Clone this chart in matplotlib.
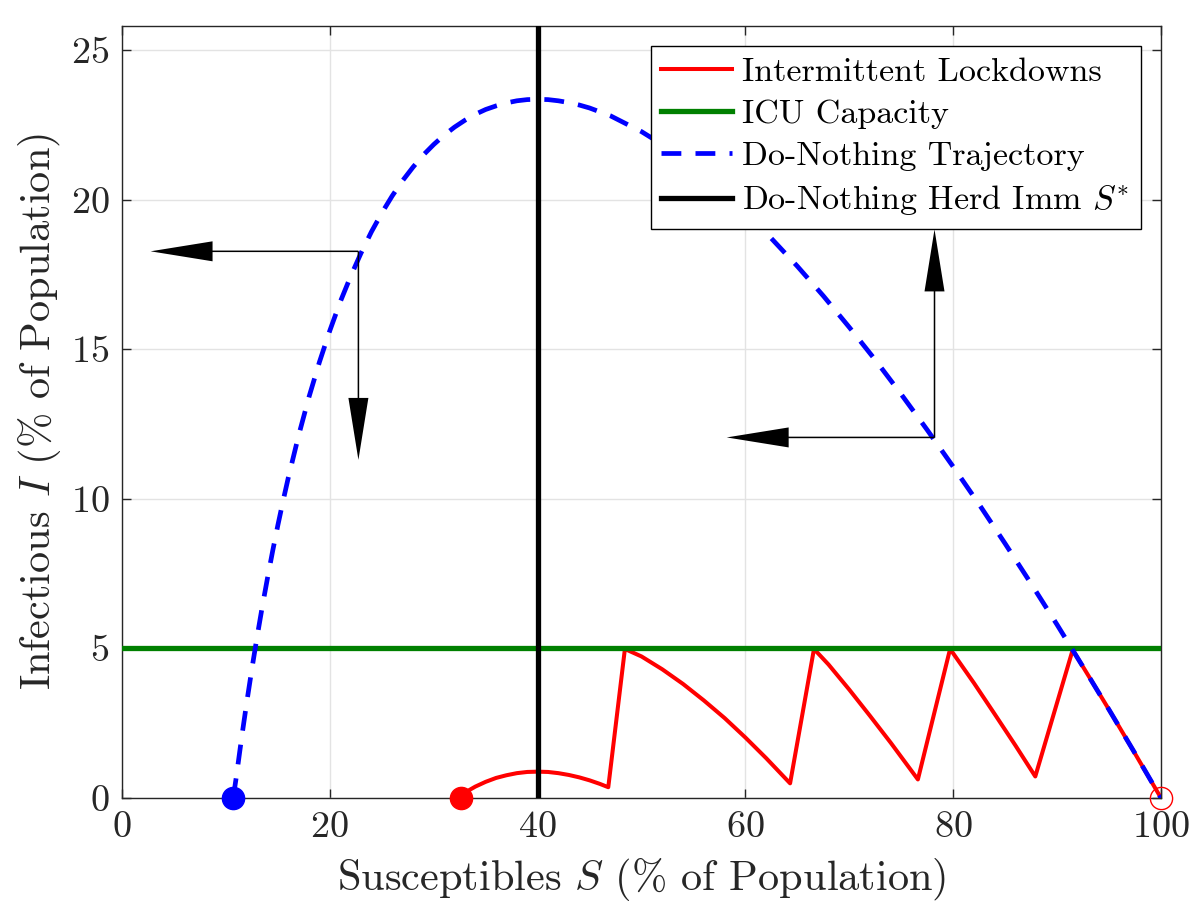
import matplotlib
matplotlib.use("Agg")
from matplotlib import pyplot as plt

plt.rcParams['font.family'] = 'serif'
plt.rcParams['font.serif'] = ['cmr10']
plt.rcParams['mathtext.fontset'] = 'cm'
plt.rcParams['axes.formatter.use_mathtext'] = True

# do-nothing SIR trajectory, S and I in % of population
dn_S = [10.7, 11.0, 11.5, 12, 12.5, 13, 13.5, 14, 14.5, 15, 15.5, 16, 17, 18, 19, 20, 21, 22,
        23, 24, 25, 26, 27, 28, 29, 30, 31, 32, 33, 34, 35, 36, 37, 38, 39, 40, 41, 42, 43,
        44, 45, 47, 50, 52.5, 55, 57.5, 60, 62.5, 65, 67.5, 70, 72.5, 75, 77.5, 80, 82.5,
        85, 87.5, 90, 92.5, 95, 97.5, 100]
dn_I = [0.0, 0.71, 1.99, 3.19, 4.32, 5.39, 6.40, 7.35, 8.26, 9.12, 9.93, 10.70, 12.12, 13.41,
        14.57, 15.62, 16.58, 17.43, 18.21, 18.92, 19.55, 20.12, 20.63, 21.08, 21.49, 21.84,
        22.15, 22.42, 22.65, 22.85, 23.01, 23.13, 23.23, 23.30, 23.34, 23.35, 23.34, 23.30,
        23.24, 23.16, 23.06, 22.80, 22.27, 21.73, 21.09, 20.36, 19.57, 18.70, 17.77, 16.78,
        15.73, 14.64, 13.49, 12.30, 11.07, 9.81, 8.50, 7.16, 5.79, 4.38, 2.95, 1.49, 0.0]

# intermittent lockdown trajectory (time runs from S=100 leftwards)
lk_S = [100, 97, 95, 93.5, 91.5,
        87.9, 86, 84, 82, 79.7,
        76.6, 74, 72, 70, 68, 66.6,
        64.3, 62, 60, 58, 56, 54, 52, 50, 48.4,
        46.8, 46, 45, 44, 43, 42, 41, 40, 39, 38, 37, 36, 35, 34, 33, 32.6]
lk_I = [0.0, 1.78, 2.95, 3.81, 4.95,
        0.72, 1.75, 2.80, 3.84, 4.98,
        0.62, 1.84, 2.74, 3.62, 4.46, 4.98,
        0.49, 1.33, 2.02, 2.67, 3.26, 3.81, 4.30, 4.73, 4.98,
        0.36, 0.47, 0.59, 0.69, 0.77, 0.83, 0.87, 0.88, 0.87, 0.83, 0.76, 0.67, 0.54,
        0.38, 0.18, 0.0]

icu_capacity = 5.0
herd_S = 40.0
dn_end = (10.7, 0.0)
lk_end = (32.6, 0.0)
start = (100.0, 0.0)

# direction arrows: (corner, tip)
arrows = [((22.75, 18.27), (2.75, 18.27)),
          ((22.75, 18.27), (22.75, 11.3)),
          ((78.2, 12.05), (78.2, 19.0)),
          ((78.2, 12.05), (58.2, 12.05))]

fig = plt.figure(figsize=(12, 9.22), dpi=100)
ax = fig.add_axes([0.1017, 0.1345, 0.8658, 0.8373])

ax.plot(lk_S, lk_I, color='#ff0000', lw=2.9, label='Intermittent Lockdowns', zorder=3)
ax.axhline(icu_capacity, color='#008000', lw=3.8, label='ICU Capacity', zorder=4)
ax.plot(dn_S, dn_I, color='#0000ff', lw=3.4, dashes=(4.2, 3.0),
        label='Do-Nothing Trajectory', zorder=5)
ax.axvline(herd_S, color='k', lw=3.8, label=r'Do-Nothing Herd Imm $S^{*}$', zorder=6)

ax.plot(*dn_end, 'o', color='#0000ff', ms=16, zorder=7, clip_on=False)
ax.plot(*lk_end, 'o', color='#ff0000', ms=16, zorder=7, clip_on=False)
ax.plot(*start, 'o', mfc='none', mec='#ff0000', ms=16, mew=1.0, zorder=7, clip_on=False)

for corner, tip in arrows:
    ax.annotate('', xy=tip, xytext=corner,
                arrowprops=dict(facecolor='k', edgecolor='none', width=1.1,
                                headwidth=14.4, headlength=44.6, shrink=0.0),
                zorder=8)

ax.set_xlim(0, 100)
ax.set_ylim(0, 25.8)
ax.set_xticks([0, 20, 40, 60, 80, 100])
ax.set_yticks([0, 5, 10, 15, 20, 25])
ax.grid(True, color='#e3e3e3', lw=1.0)
ax.set_axisbelow(True)
ax.tick_params(direction='in', length=6.5, width=1.0, top=True, right=True,
               labelsize=27.5, colors='#262626', pad=9)
for sp in ax.spines.values():
    sp.set_color('#262626')
    sp.set_linewidth(1.0)

ax.set_xlabel(r'Susceptibles $S$ (% of Population)', fontsize=30.5, color='#262626',
              labelpad=9)
ax.set_ylabel(r'Infectious $I$ (% of Population)', fontsize=30.5, color='#262626',
              labelpad=6)

leg = ax.legend(loc='upper right', fontsize=24.5, frameon=True, fancybox=False,
                framealpha=1.0, edgecolor='k', handlelength=2.08, handletextpad=0.3,
                borderaxespad=0.6, labelspacing=0.36, borderpad=0.32)
leg.get_frame().set_linewidth(1.0)

fig.savefig('out.png', dpi=100)
